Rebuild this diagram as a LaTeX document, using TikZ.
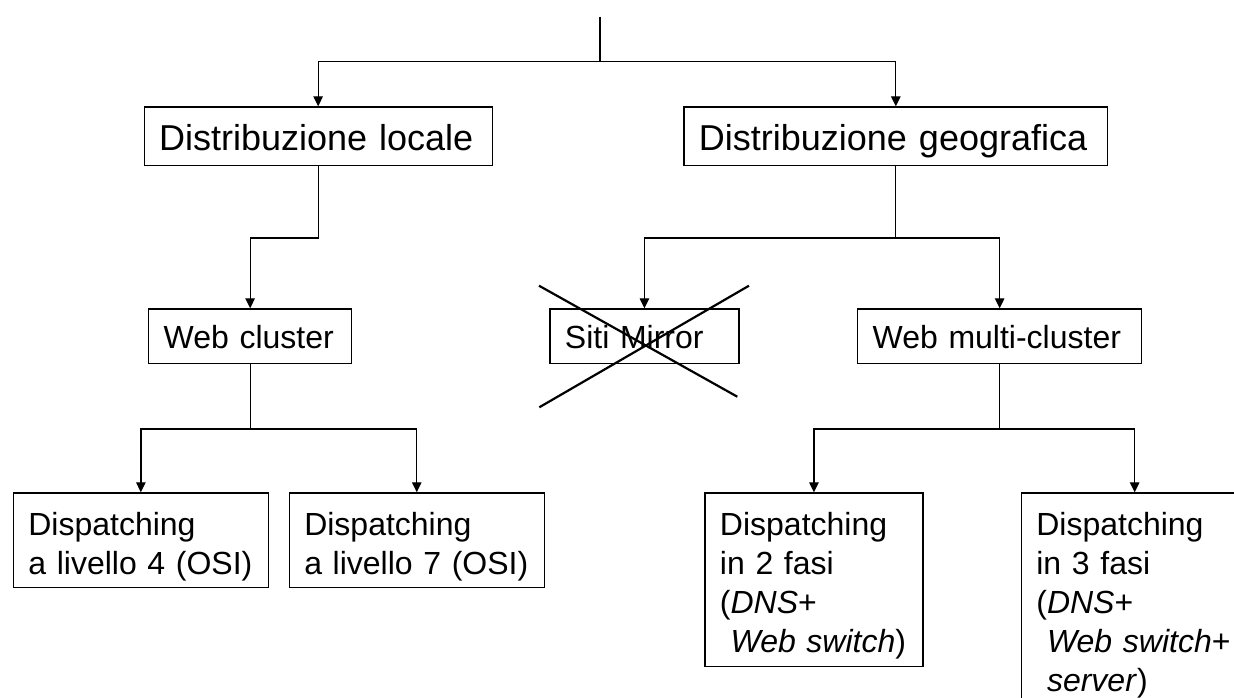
\documentclass[tikz,border=0pt]{standalone}
\usepackage{fontspec}
\setmainfont{Liberation Sans}
\usetikzlibrary{arrows.meta}

\begin{document}
\begin{tikzpicture}[x=1pt, y=-1pt, line width=1.3pt, >={Triangle[length=10pt,width=9.5pt]},
    box/.style={draw, anchor=north west, inner xsep=15pt, inner ysep=0pt, align=left, text depth=0pt},
    levelone/.style={box, font=\fontsize{36}{43}\selectfont, text height=29pt, minimum height=58.7pt},
    leveltwo/.style={box, font=\fontsize{32}{39}\selectfont, text height=24.4pt, minimum height=54.4pt},
    leaf/.style={box, font=\fontsize{32}{39}\selectfont, text height=42.7pt},
    cross/.style={line width=2.2pt}]
    \useasboundingbox (0,0) rectangle (1234,698);

    % Root
    \coordinate (root) at (600,16.7);
    \coordinate (fork) at (600,61.3);

    % Level 1
    \node[levelone, text width=318pt] (locale) at (143.5,106.3) {Distribuzione locale};
    \node[levelone, text width=393.7pt] (geo) at (683.3,106.3) {Distribuzione geografica};

    % Level 2
    \node[leveltwo, text width=173pt] (webc) at (148,308.3) {Web cluster};
    \node[leveltwo, text width=159pt] (mirror) at (549.3,308.3) {Siti Mirror};
    \node[leveltwo, text width=254pt] (multi) at (857,308.3) {Web multi-cluster};

    % Leaves
    \node[leaf, text width=225pt, text depth=51.7pt] (disp4) at (12.7,492.3) {Dispatching\\a livello 4 (OSI)};
    \node[leaf, text width=225pt, text depth=51.7pt] (disp7) at (288.6,492.3) {Dispatching\\a livello 7 (OSI)};
    \node[leaf, text width=188pt, text depth=131pt] (fasi2) at (704.3,492.3)
        {Dispatching\\in 2 fasi\\(\textit{DNS}+\\\mbox{}\ \textit{Web switch})};
    \node[leaf, text width=196.6pt, text depth=170pt] (fasi3) at (1020.7,492.3)
        {Dispatching\\in 3 fasi\\(\textit{DNS}+\\\mbox{}\ \textit{Web switch}+\\\mbox{}\ \textit{server})};

    % Connectors
    \draw (root) -- (fork);
    \foreach \c in {locale,geo} {
        \draw[->] (fork) -| (\c.north);
    }
    \draw[->] (locale.south) -- ++(0,71.7) -| (webc.north);
    \draw (geo.south) -- ++(0,71.7) coordinate (geofork);
    \foreach \c in {mirror,multi} {
        \draw[->] (geofork) -| (\c.north);
    }
    \draw (webc.south) -- ++(0,65) coordinate (webfork);
    \foreach \c in {disp4,disp7} {
        \draw[->] (webfork) -| (\c.north);
    }
    \draw (multi.south) -- ++(0,65) coordinate (multifork);
    \foreach \c in {fasi2,fasi3} {
        \draw[->] (multifork) -| (\c.north);
    }

    % Crossed out
    \draw[cross] (539,285.7) -- (737.3,396.7);
    \draw[cross] (749,285.7) -- (539.3,407.3);
\end{tikzpicture}
\end{document}
